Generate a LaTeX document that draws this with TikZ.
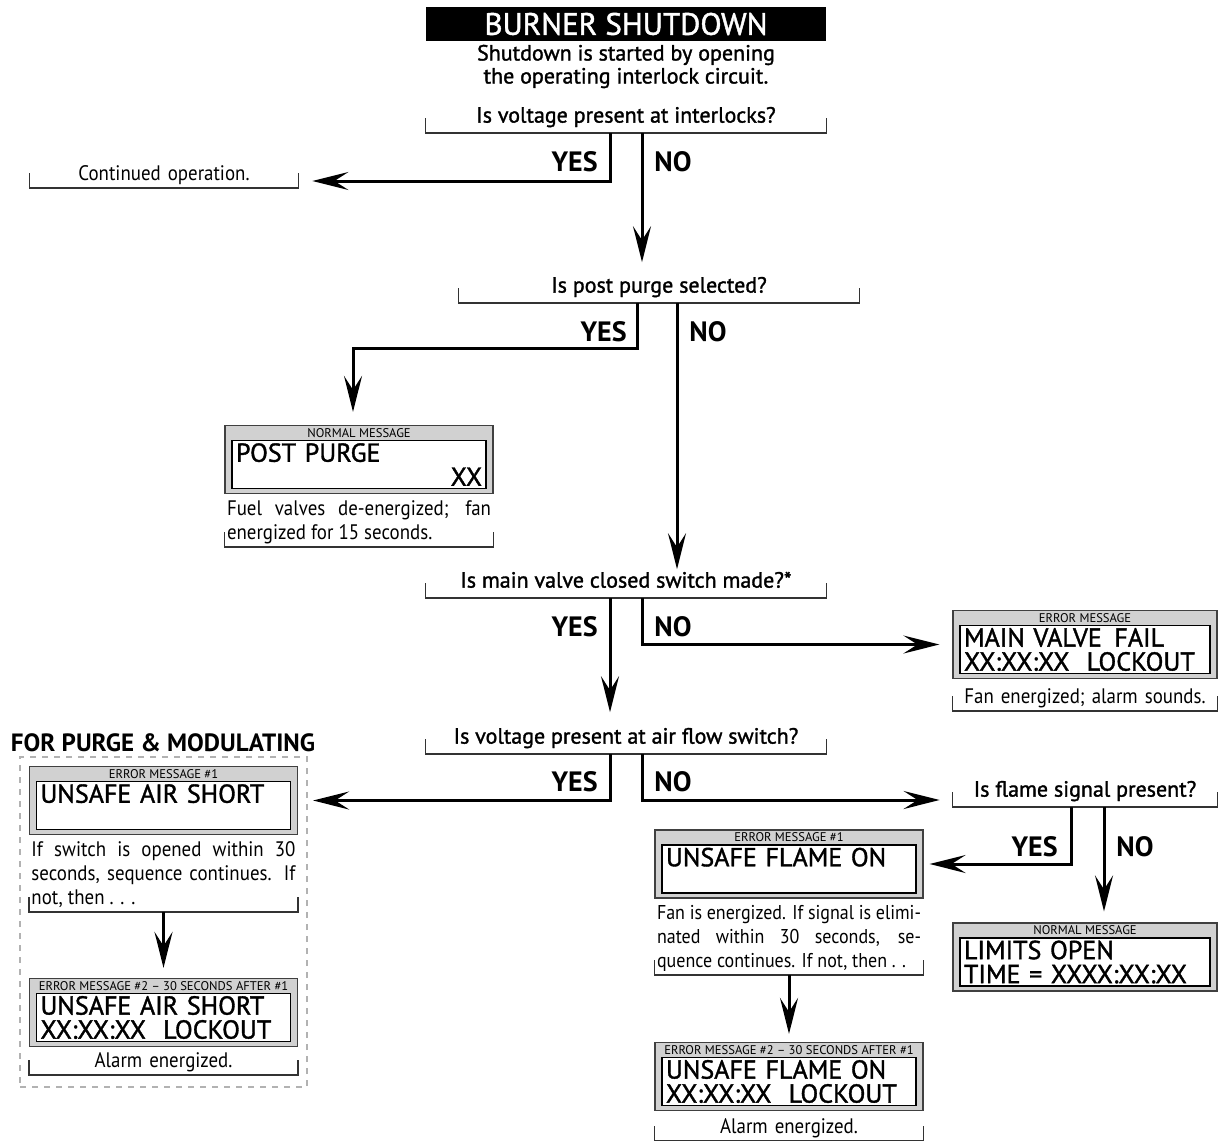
\documentclass[tikz,border=0pt]{standalone}
\usepackage{fontspec}
\setmainfont{PT Sans}
\newfontfamily\medfont[FakeBold=1.4]{PT Sans}
\newfontfamily\condfont[FakeStretch=0.9]{PT Sans}
\newfontfamily\tagfont{PT Sans}
\usetikzlibrary{arrows.meta}

\begin{document}
\begin{tikzpicture}[
    x=0.5pt, y=-0.5pt,
    headbox/.style={fill=black, text=white, minimum width=200pt, minimum height=17pt, inner sep=0pt, font=\medfont\fontsize{15.5}{18}\selectfont},
    intro/.style={align=center, inner sep=0pt, font=\medfont\fontsize{11}{11.5}\selectfont},
    question/.style={anchor=south, minimum width=200pt, inner sep=0pt, text height=9pt, text depth=5pt, font=\medfont\fontsize{11}{12}\selectfont},
    yn/.style={inner sep=0pt, font=\bfseries\fontsize{14}{15}\selectfont},
    note/.style={anchor=south, text width=132pt, inner xsep=1pt, inner ysep=0pt, align=justify, execute at end node=\strut, font=\condfont\fontsize{10.5}{12}\selectfont},
    panel/.style={draw=black!75, fill=black!18, line width=0.6pt, minimum width=134pt, minimum height=34pt, inner sep=0pt},
    screen/.style={anchor=south, draw=black, fill=white, line width=0.6pt, text width=123pt, inner xsep=2pt, inner ysep=0pt, minimum height=24pt, align=left, font=\medfont\fontsize{13}{12}\selectfont},
    tag/.style={inner sep=0pt, font=\tagfont\fontsize{6.3}{7}\selectfont},
    dashbox/.style={draw=black!30, dashed, line width=1.2pt, minimum width=143.5pt, minimum height=165pt},
    bracket/.style={draw=black!80, line width=0.7pt},
    arrow/.style={-{Stealth[length=18pt,width=9pt,inset=7pt]}, line width=1.5pt}
]
    \useasboundingbox (0,0) rectangle (1218,1140);

    % Heading
    \node[headbox] (head) at (626,24) {BURNER SHUTDOWN};
    \node[intro] (intro) at (626,66.5) {Shutdown is started by opening\\the operating interlock circuit.};

    % Questions
    \node[question] (q1) at (626,133) {Is voltage present at interlocks?};
    \node[question] (q2) at (659,303) {Is post purge selected?};
    \node[question] (q3) at (626,598) {Is main valve closed switch made?*};
    \node[question] (q4) at (626,754) {Is voltage present at air flow switch?};
    \node[question, minimum width=132pt] (q5) at (1085,807) {Is flame signal present?};

    % Answers
    \node[yn, anchor=east] (yes1) at (598,162) {YES};
    \node[yn, anchor=west] (no1) at (654,162) {NO};
    \node[yn, anchor=east] (yes2) at (627,332) {YES};
    \node[yn, anchor=west] (no2) at (689,332) {NO};
    \node[yn, anchor=east] (yes3) at (598,627) {YES};
    \node[yn, anchor=west] (no3) at (654,627) {NO};
    \node[yn, anchor=east] (yes4) at (598,782) {YES};
    \node[yn, anchor=west] (no4) at (654,782) {NO};
    \node[yn, anchor=east] (yes5) at (1058,847) {YES};
    \node[yn, anchor=west] (no5) at (1116,847) {NO};

    % Continued operation
    \node[note, align=center] (cont) at (164,188) {Continued operation.};

    % Post purge
    \node[panel] (pp) at (359,459.5) {};
    \node[tag] (pp-tag) at ([yshift=-4pt]pp.north) {NORMAL MESSAGE};
    \node[screen] (pp-scr) at ([yshift=2.5pt]pp.south) {POST PURGE\\\mbox{}\hskip0pt plus1filll XX};
    \node[note] (ppt) at (359,547) {Fuel valves de-energized; fan\linebreak energized for 15 seconds.};

    % Main valve fail
    \node[panel, minimum width=132pt] (mv) at (1085,644.5) {};
    \node[tag] (mv-tag) at ([yshift=-4pt]mv.north) {ERROR MESSAGE};
    \node[screen, text width=121pt] (mv-scr) at ([yshift=2.5pt]mv.south) {MAIN VALVE\hspace{2pt} FAIL\\XX:XX:XX\ \ LOCKOUT};
    \node[note, align=center, text width=130pt] (mvt) at (1085,711) {Fan energized; alarm sounds.};

    % Purge & modulating group
    \node[font=\bfseries\fontsize{12.5}{14}\selectfont, inner sep=0pt] (grp-title) at (163,743) {FOR PURGE \& MODULATING};
    \node[dashbox] (grp) at (163.5,922) {};
    \node[panel] (as1) at (163.5,800.5) {};
    \node[tag] (as1-tag) at ([yshift=-4pt]as1.north) {ERROR MESSAGE \#1};
    \node[screen] (as1-scr) at ([yshift=2.5pt]as1.south) {UNSAFE AIR SHORT\\\mbox{}};
    \node[note] (as1t) at (163.5,912) {If switch is opened within 30\linebreak seconds, sequence continues. If\linebreak not, then . . .};
    \node[panel] (as2) at (163.5,1012.5) {};
    \node[tag] (as2-tag) at ([yshift=-4pt]as2.north) {ERROR MESSAGE \#2 \textendash{} 30 SECONDS AFTER \#1};
    \node[screen] (as2-scr) at ([yshift=2.5pt]as2.south) {UNSAFE AIR SHORT\\XX:XX:XX\ \ LOCKOUT};
    \node[note, align=center] (as2t) at (163.5,1075) {Alarm energized.};

    % Unsafe flame on
    \node[panel] (uf1) at (789,864) {};
    \node[tag] (uf1-tag) at ([yshift=-4pt]uf1.north) {ERROR MESSAGE \#1};
    \node[screen] (uf1-scr) at ([yshift=2.5pt]uf1.south) {UNSAFE FLAME ON\\\mbox{}};
    \node[note, font=\condfont\fontsize{10}{12}\selectfont] (uf1t) at (789,975) {Fan is energized. If signal is elimi-\linebreak nated within 30 seconds, se-\linebreak quence continues. If not, then . .};
    \node[panel] (uf2) at (789,1076.5) {};
    \node[tag] (uf2-tag) at ([yshift=-4pt]uf2.north) {ERROR MESSAGE \#2 \textendash{} 30 SECONDS AFTER \#1};
    \node[screen] (uf2-scr) at ([yshift=2.5pt]uf2.south) {UNSAFE FLAME ON\\XX:XX:XX\ \ LOCKOUT};
    \node[note, align=center] (uf2t) at (789,1141) {Alarm energized.};

    % Limits open
    \node[panel, minimum width=132pt] (lo) at (1085,957) {};
    \node[tag] (lo-tag) at ([yshift=-4pt]lo.north) {NORMAL MESSAGE};
    \node[screen, text width=121pt] (lo-scr) at ([yshift=2.5pt]lo.south) {LIMITS OPEN\\TIME = XXXX:XX:XX};

    % Brackets
    \foreach \n in {q1,q2,q3,q4,q5,cont,ppt,mvt,as1t,as2t,uf1t,uf2t}
        \draw[bracket] ([yshift=7.5pt]\n.south west) |- (\n.south east) -- ++(0,-15);

    % Branch points
    \coordinate (y1) at ([xshift=-8pt]q1.south);
    \coordinate (n1) at ([xshift=8pt]q1.south);
    \coordinate (y2) at ([xshift=-11pt]q2.south);
    \coordinate (n2) at ([xshift=9pt]q2.south);
    \coordinate (y3) at ([xshift=-8pt]q3.south);
    \coordinate (n3) at ([xshift=8pt]q3.south);
    \coordinate (y4) at ([xshift=-8pt]q4.south);
    \coordinate (n4) at ([xshift=8pt]q4.south);
    \coordinate (y5) at ([xshift=-7pt]q5.south);
    \coordinate (n5) at ([xshift=9.5pt]q5.south);

    % Connections
    \draw[arrow] (y1) |- ([shift={(14,-7)}]cont.south east);
    \draw[arrow] (n1) -- ([yshift=6pt]n1 |- q2.north);
    \draw[arrow] (y2) -- ++(0,45) -| ([shift={(-6,-13)}]pp.north);
    \draw[arrow] (n2) -- (n2 |- q3.north);
    \draw[arrow] (y3) -- ([yshift=6.5pt]y3 |- q4.north);
    \draw[arrow] (n3) |- ([xshift=-6.5pt]mv.west);
    \draw[arrow] (y4) |- ([xshift=7.5pt]as1.east);
    \draw[arrow] (n4) |- ([shift={(-13,-7)}]q5.south west);
    \draw[arrow] (y5) |- ([xshift=3pt]uf1.east);
    \draw[arrow] (n5) -- ([yshift=5.5pt]n5 |- lo.north);
    \draw[arrow] (as1t.south) -- ([yshift=5pt]as1t.south |- as2.north);
    \draw[arrow] (uf1t.south) -- ([yshift=4pt]uf1t.south |- uf2.north);
\end{tikzpicture}
\end{document}
